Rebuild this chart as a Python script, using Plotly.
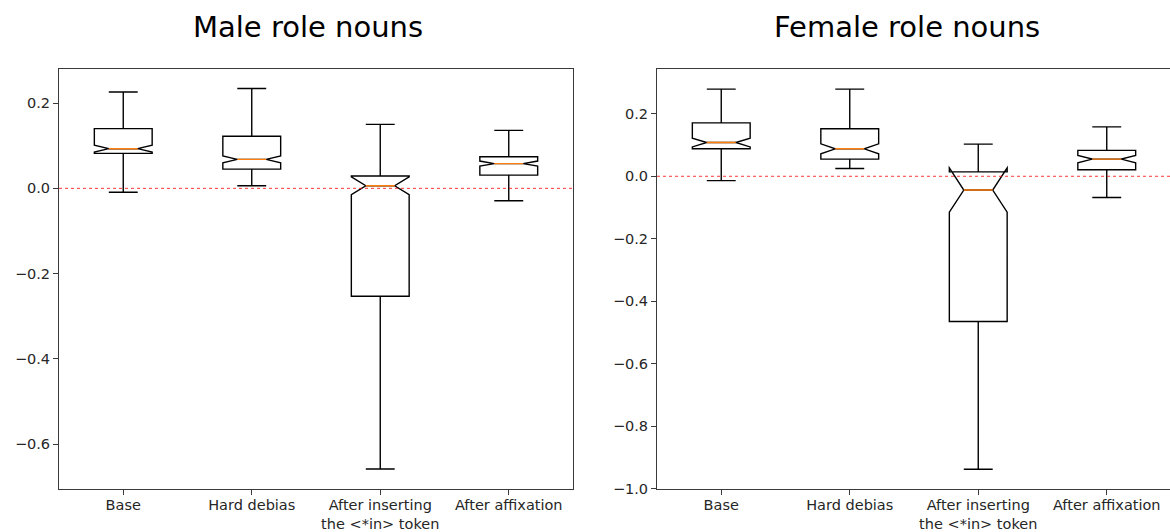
import plotly.graph_objects as go

categories = ["Base", "Hard debias", "After inserting<br>the &lt;*in&gt; token", "After affixation"]
positions = [1, 2, 3, 4]

# Male role nouns
male_lower = [-0.009, 0.006, -0.658, -0.029]
male_q1 = [0.082, 0.045, -0.253, 0.031]
male_median = [0.093, 0.068, 0.006, 0.058]
male_q3 = [0.140, 0.122, 0.029, 0.074]
male_upper = [0.226, 0.234, 0.150, 0.136]
male_notch = [0.008, 0.008, 0.021, 0.006]

# Female role nouns
female_lower = [-0.014, 0.025, -0.938, -0.068]
female_q1 = [0.088, 0.055, -0.465, 0.021]
female_median = [0.108, 0.088, -0.044, 0.055]
female_q3 = [0.171, 0.152, 0.014, 0.083]
female_upper = [0.279, 0.279, 0.103, 0.158]
female_notch = [0.014, 0.016, 0.071, 0.012]

titles = ["Male role nouns", "Female role nouns"]

BOX_W = 0.45
NOTCH_W = 0.25
FONT = "DejaVu Sans"
SPINE = "#3a3a3a"

W, H = 1170, 532
left_px = (59, 573)
right_px = (657, 1170)
unit_px = (left_px[1] - left_px[0]) / 4.0
right_max = 0.5 + (right_px[1] - right_px[0]) / unit_px
ydom = [1 - 489 / H, 1 - 68.5 / H]

fig = go.Figure()

def add_panel(lower, q1, med, q3, upper, notch, xa, ya):
    fig.add_trace(go.Box(
        x=positions, q1=q1, median=med, q3=q3,
        lowerfence=lower, upperfence=upper, notchspan=notch,
        notched=True, notchwidth=NOTCH_W, width=BOX_W, whiskerwidth=0.5,
        boxpoints=False, fillcolor="rgba(0,0,0,0)",
        line=dict(color="black", width=1.4),
        xaxis=xa, yaxis=ya, showlegend=False, hoverinfo="skip",
    ))
    half = BOX_W / 2 * (1 - 2 * NOTCH_W)
    mx, my = [], []
    for p, m in zip(positions, med):
        mx += [p - half, p + half, None]
        my += [m, m, None]
    fig.add_trace(go.Scatter(
        x=mx, y=my, mode="lines", line=dict(color="#ff7f0e", width=1.4),
        xaxis=xa, yaxis=ya, showlegend=False, hoverinfo="skip",
    ))

add_panel(male_lower, male_q1, male_median, male_q3, male_upper, male_notch, "x", "y")
add_panel(female_lower, female_q1, female_median, female_q3, female_upper, female_notch, "x2", "y2")

tickfont = dict(family=FONT, size=14.5, color="#262626")
common_x = dict(tickvals=positions, ticktext=categories, showline=True, linecolor=SPINE,
                linewidth=1, ticks="outside", ticklen=5, tickcolor=SPINE, showgrid=False,
                zeroline=False, tickfont=tickfont, automargin=False, tickangle=0,
                ticklabelstandoff=-2)
common_y = dict(dtick=0.2, tick0=0, tickformat=".1f", showline=True, linecolor=SPINE,
                linewidth=1, ticks="outside", ticklen=5, tickcolor=SPINE, showgrid=False,
                zeroline=False, tickfont=tickfont, automargin=False, domain=ydom)

fig.update_layout(
    width=W, height=H, margin=dict(l=0, r=0, t=0, b=0),
    paper_bgcolor="white", plot_bgcolor="white",
    xaxis=dict(domain=[left_px[0] / W, left_px[1] / W], range=[0.5, 4.5], anchor="y",
               mirror=True, **common_x),
    yaxis=dict(range=[-0.705, 0.281], anchor="x", mirror=True, **common_y),
    xaxis2=dict(domain=[right_px[0] / W, 1.0], range=[0.5, right_max], anchor="y2",
                mirror=True, **common_x),
    yaxis2=dict(range=[-1.001, 0.345], anchor="x2", mirror=False, **common_y),
    shapes=[
        dict(type="line", xref="x domain", yref="y", x0=0, x1=1, y0=0, y1=0,
             line=dict(color="red", width=0.8, dash="dot"), layer="above"),
        dict(type="line", xref="x2 domain", yref="y2", x0=0, x1=1, y0=0, y1=0,
             line=dict(color="red", width=0.8, dash="dot"), layer="above"),
    ],
    annotations=[
        dict(text=titles[0], x=307.5 / W, y=1 - 27.5 / H, xref="paper", yref="paper",
             xanchor="center", yanchor="middle", showarrow=False,
             font=dict(family=FONT, size=29, color="black")),
        dict(text=titles[1], x=907 / W, y=1 - 27.5 / H, xref="paper", yref="paper",
             xanchor="center", yanchor="middle", showarrow=False,
             font=dict(family=FONT, size=29, color="black")),
    ],
)

fig.write_html("out.html")
